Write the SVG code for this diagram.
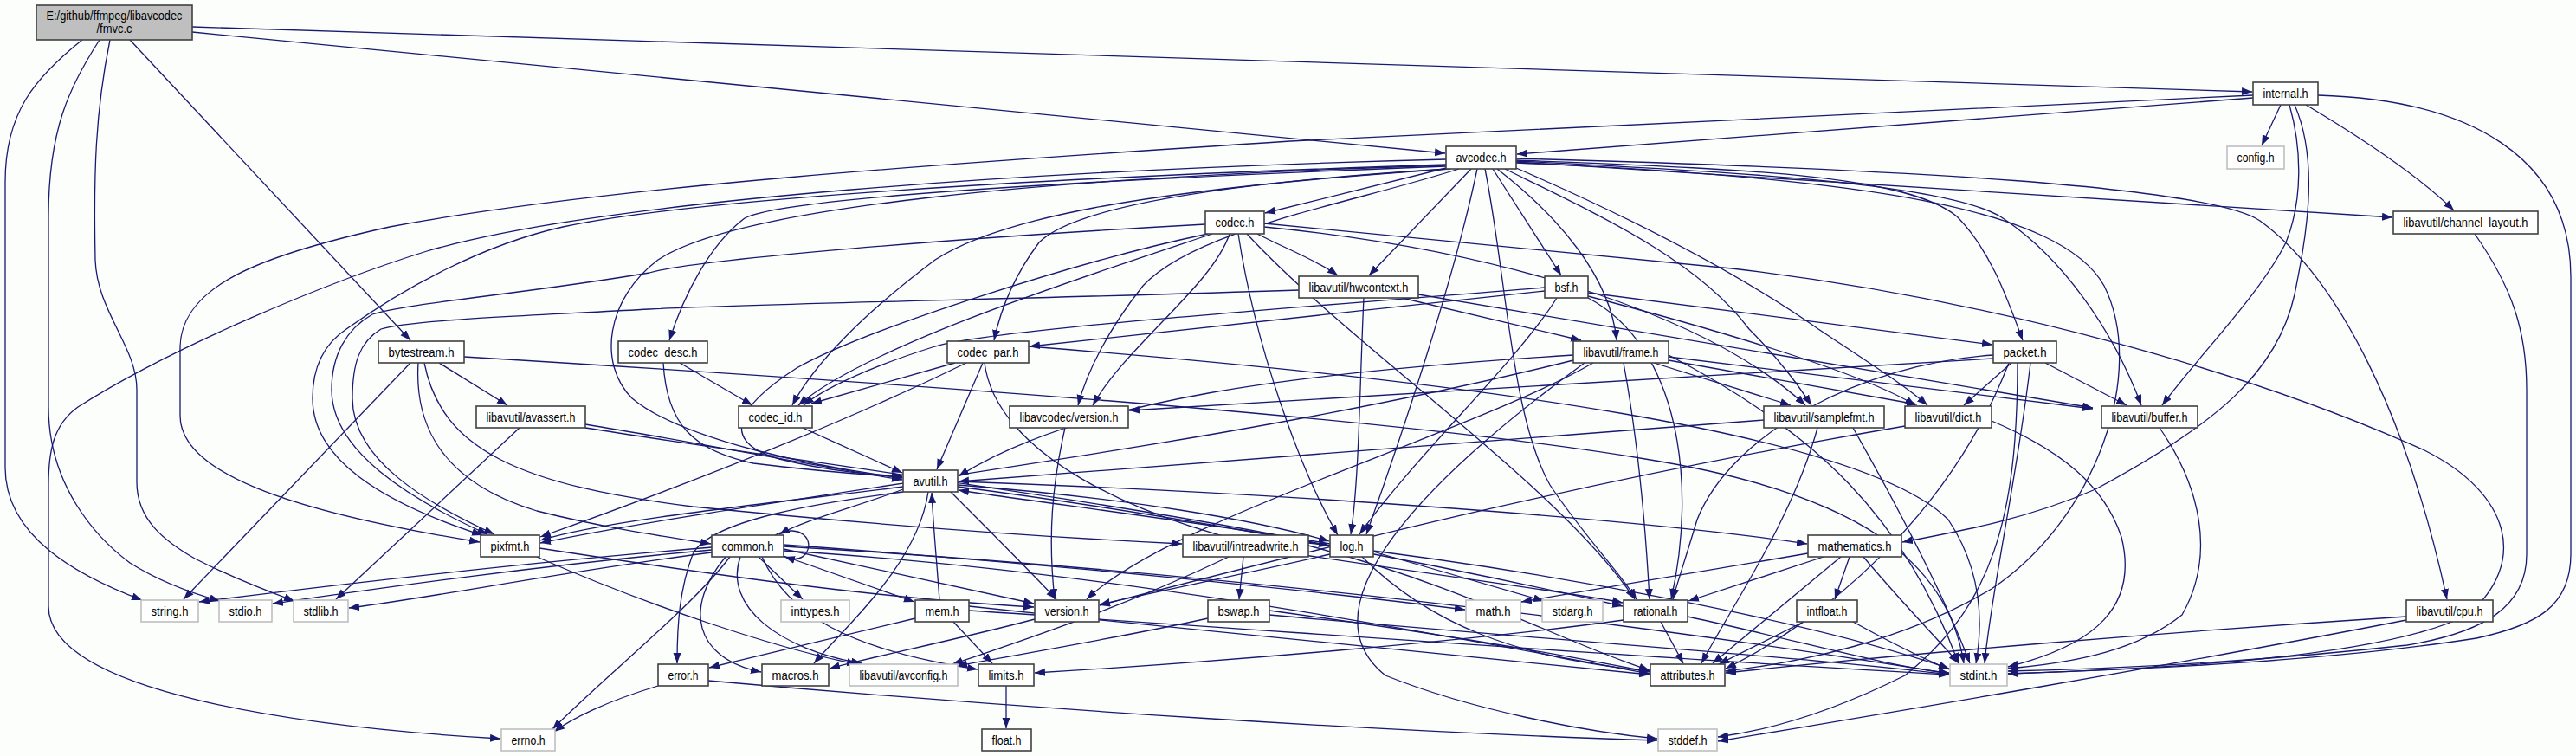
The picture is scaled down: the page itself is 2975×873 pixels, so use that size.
<svg xmlns="http://www.w3.org/2000/svg" width="2975" height="873" viewBox="0 0 2975 873">
<style>
.n rect{fill:#fff;stroke:#404040;stroke-width:1.6}
.g rect{fill:#fff;stroke:#bfbfbf;stroke-width:1.6}
#fmvc rect{fill:#bfbfbf}
text{font-family:"Liberation Sans",Arial,sans-serif;font-size:14px;fill:#000;text-anchor:middle}
#edges path{fill:none;stroke:#191970;stroke-width:1.3;marker-end:url(#a)}
</style>
<defs>
<marker id="a" markerUnits="userSpaceOnUse" markerWidth="12" markerHeight="10" refX="12" refY="4.5" orient="auto"><path d="M0,0 L12,4.5 L0,9 z" fill="#191970"/></marker>
</defs>
<rect width="2975" height="873" fill="#fcfefc"/>
<g id="edges">
<path d="M222,31 L2601,106"/>
<path d="M222,37 L1669,177"/>
<path d="M95,46 C40,90 6,130 6,210 L6,540 C6,620 90,665 164,693"/>
<path d="M115,46 C80,100 56,150 56,250 L56,470 C56,560 110,620 150,650 C185,672 225,686 254,694"/>
<path d="M127,46 C110,130 108,200 110,300 C112,360 158,400 158,450 L158,557 C158,600 190,625 225,645 C270,668 310,683 340,694"/>
<path d="M150,46 L474,393"/>
<path d="M2602,113 L1752,178"/>
<path d="M2602,110 L1490,163 C1100,188 700,215 450,262 C300,295 210,330 208,400 L208,480 C208,545 330,590 554,626"/>
<path d="M2634,121 L2612,168"/>
<path d="M2663,121 C2720,155 2790,200 2834,243"/>
<path d="M2644,121 C2658,170 2660,230 2640,280 C2610,340 2540,410 2497,468"/>
<path d="M2650,121 C2680,190 2662,280 2650,340 C2630,430 2560,490 2420,565 C2340,600 2260,614 2197,626"/>
<path d="M2677,110 C2850,115 2969,180 2969,320 L2969,640 C2969,700 2930,722 2860,737 C2700,762 2500,772 2319,778"/>
<path d="M1670,184 C1200,196 700,230 493,290 C380,325 200,400 90,470 C62,490 56,520 56,560 L56,700 C56,800 350,840 578,853"/>
<path d="M1670,190 C1200,205 800,230 650,262 C560,282 470,330 400,380 C370,400 361,430 361,460 C361,530 440,580 557,618"/>
<path d="M1670,194 L1461,246"/>
<path d="M1699,195 L1581,318"/>
<path d="M1724,195 L1803,318"/>
<path d="M1670,192 C1200,210 900,230 860,252 C820,282 790,340 773,393"/>
<path d="M1672,195 C1400,212 1240,240 1200,280 C1170,320 1155,360 1148,393"/>
<path d="M1675,195 C1300,220 1150,255 1080,300 C1000,360 940,420 915,468"/>
<path d="M1685,195 C1560,235 1380,265 1320,330 C1280,380 1255,430 1245,468"/>
<path d="M1670,191 C1200,205 850,240 760,300 C700,345 690,420 730,460 C790,510 950,540 1042,552"/>
<path d="M1706,195 C1680,320 1620,500 1578,617"/>
<path d="M1715,195 C1740,320 1745,480 1790,560 C1830,620 1870,660 1890,692"/>
<path d="M1729,195 C1800,250 1860,320 1867,393"/>
<path d="M1738,195 C1850,250 1960,300 2020,380 C2060,420 2080,450 2092,468"/>
<path d="M1751,194 C1880,250 2000,310 2100,380 C2160,420 2200,445 2226,468"/>
<path d="M1751,185 C2000,195 2200,200 2260,250 C2300,290 2320,350 2336,393"/>
<path d="M1751,186 C2050,200 2250,215 2310,250 C2380,295 2440,380 2473,468"/>
<path d="M1751,183 C2200,195 2550,215 2610,255 C2700,320 2780,480 2826,692"/>
<path d="M1751,187 L2763,251"/>
<path d="M1751,188 C2150,205 2380,240 2430,330 C2480,430 2420,600 2300,680 C2200,740 2080,765 1993,775"/>
<path d="M1460,258 C1600,270 1750,285 2000,310 C2300,345 2600,430 2800,520 C2900,570 2920,650 2850,710 C2750,760 2500,772 2319,778"/>
<path d="M1395,270 C1250,300 1000,380 920,425 C850,470 830,510 900,530 C960,545 1010,548 1042,550"/>
<path d="M1452,270 C1480,285 1520,300 1545,318"/>
<path d="M1430,270 C1450,400 1500,540 1545,618"/>
<path d="M1392,259 C1100,275 800,300 750,315 C600,340 470,350 430,363 C400,380 383,410 383,450 C383,520 470,575 563,617"/>
<path d="M1440,270 C1560,400 1800,560 1888,692"/>
<path d="M1460,262 C1750,290 1980,370 2085,468"/>
<path d="M1400,270 C1250,320 1000,400 922,468"/>
<path d="M1420,270 C1400,330 1300,400 1262,468"/>
<path d="M1638,340 L2417,471"/>
<path d="M1619,344 L1826,393"/>
<path d="M1575,344 C1570,450 1570,550 1560,617"/>
<path d="M1500,335 C1200,345 900,350 750,357 C600,365 470,370 440,380 C415,395 407,420 407,460 C407,530 490,580 571,617"/>
<path d="M1784,332 C1500,355 1150,380 1080,400 C1000,425 950,450 928,468"/>
<path d="M1784,336 L1189,400"/>
<path d="M1798,344 C1750,420 1640,520 1570,617"/>
<path d="M1834,338 L2301,398"/>
<path d="M1834,342 C1980,380 2150,430 2212,468"/>
<path d="M1834,344 C1940,400 1960,560 1930,692"/>
<path d="M785,419 L869,468"/>
<path d="M766,419 C770,490 800,520 870,535 C950,545 1000,548 1042,551"/>
<path d="M1103,419 L937,466"/>
<path d="M1135,419 L1082,542"/>
<path d="M1116,419 C950,500 750,575 624,620"/>
<path d="M1137,419 C1150,520 1300,600 1500,640 C1700,670 1820,685 1874,696"/>
<path d="M1188,400 C1700,440 2150,500 2250,600 C2290,660 2290,720 2282,766"/>
<path d="M927,494 L1042,546"/>
<path d="M1230,494 C1215,560 1210,620 1218,692"/>
<path d="M474,419 L212,692"/>
<path d="M507,419 L586,468"/>
<path d="M483,419 C478,500 520,560 620,590 C700,610 770,620 821,628"/>
<path d="M490,419 C510,520 600,560 800,585 C1000,605 1200,620 1365,628"/>
<path d="M536,412 C1000,440 1600,480 1900,530 C2150,570 2250,650 2268,766"/>
<path d="M600,494 L388,692"/>
<path d="M676,490 C800,510 950,540 1042,554"/>
<path d="M676,494 C900,530 1300,580 1535,630"/>
<path d="M1817,410 C1500,430 1250,460 1107,550"/>
<path d="M1817,416 C1400,520 900,570 624,627"/>
<path d="M1840,419 C1700,500 1350,600 1255,692"/>
<path d="M1830,419 C1650,550 1500,700 1600,780 C1700,820 1830,845 1914,853"/>
<path d="M1927,410 C2100,500 2200,600 2262,766"/>
<path d="M1927,412 L2417,472"/>
<path d="M1927,416 L2214,467"/>
<path d="M1875,419 C1890,500 1900,600 1905,692"/>
<path d="M1910,419 L2068,468"/>
<path d="M2330,419 C2330,600 2300,700 2200,780 C2100,830 2030,845 1984,851"/>
<path d="M2345,419 C2330,550 2300,680 2292,766"/>
<path d="M2320,419 C2250,600 2100,720 1993,772"/>
<path d="M2362,419 L2456,468"/>
<path d="M2323,419 L2268,468"/>
<path d="M2302,410 C2150,420 2000,500 1960,600 C1945,650 1935,680 1932,692"/>
<path d="M2302,414 C1900,440 1500,460 1304,474"/>
<path d="M2037,485 L1107,556"/>
<path d="M2099,494 C2070,600 2000,700 1965,766"/>
<path d="M2140,494 C2200,600 2250,700 2275,766"/>
<path d="M2300,486 C2380,520 2430,560 2450,620 C2470,700 2420,745 2319,770"/>
<path d="M2200,492 C1800,560 1500,640 1270,699"/>
<path d="M2494,494 C2540,560 2560,640 2520,710 C2470,750 2400,765 2319,772"/>
<path d="M2858,270 C2900,330 2918,380 2918,450 L2918,640 C2918,700 2870,730 2780,745 C2600,765 2450,772 2319,775"/>
<path d="M2779,712 C2500,730 2200,755 1993,777"/>
<path d="M2779,716 C2500,770 2200,820 1984,856"/>
<path d="M1043,565 C990,585 930,600 900,617"/>
<path d="M1043,568 C950,580 820,600 800,640 C785,680 782,720 782,766"/>
<path d="M1098,568 C1140,610 1190,660 1220,692"/>
<path d="M1043,562 C900,580 700,600 624,624"/>
<path d="M1106,560 C1300,575 1450,600 1535,625"/>
<path d="M1106,562 C1400,600 1700,660 1874,700"/>
<path d="M1106,556 C1500,570 1900,600 2087,628"/>
<path d="M1072,568 C1060,650 980,720 940,766"/>
<path d="M895,618 C925,603 942,625 930,640 C924,647 916,646 906,643"/>
<path d="M843,643 C800,700 700,780 638,842"/>
<path d="M876,643 L927,692"/>
<path d="M880,643 C910,710 980,750 1129,773"/>
<path d="M838,643 C790,700 800,760 879,776"/>
<path d="M855,643 C835,700 900,750 995,766"/>
<path d="M905,636 C1300,660 1700,740 1905,778"/>
<path d="M905,642 L1056,695"/>
<path d="M905,634 L1194,697"/>
<path d="M905,631 C1400,660 1900,720 2251,778"/>
<path d="M822,632 C600,650 350,680 230,695"/>
<path d="M822,635 C600,655 400,685 315,697"/>
<path d="M822,638 C650,660 500,690 403,702"/>
<path d="M905,629 C1200,650 1500,680 1692,704"/>
<path d="M1586,637 L1783,694"/>
<path d="M1536,628 C1400,605 1200,580 1107,566"/>
<path d="M1573,643 C1650,720 1750,760 1905,775"/>
<path d="M1536,640 C1450,660 1350,680 1270,698"/>
<path d="M1195,715 C1100,740 1000,760 958,772"/>
<path d="M1085,693 C1082,650 1078,610 1076,569"/>
<path d="M1057,714 L819,771"/>
<path d="M1101,718 L1146,766"/>
<path d="M1119,700 C1400,730 1700,760 1905,779"/>
<path d="M1119,705 C1500,730 1900,760 2251,779"/>
<path d="M760,792 C700,810 660,830 640,845"/>
<path d="M818,786 C1200,820 1600,845 1914,855"/>
<path d="M1162,792 L1162,841"/>
<path d="M620,643 C750,700 900,750 990,767"/>
<path d="M623,633 C800,660 1000,690 1194,701"/>
<path d="M1436,643 L1431,692"/>
<path d="M1419,643 C1300,700 1180,740 1100,767"/>
<path d="M1511,630 C1700,680 1800,740 1905,774"/>
<path d="M1511,627 C1800,660 2100,720 2251,772"/>
<path d="M1395,714 C1300,735 1180,755 1105,769"/>
<path d="M1466,705 C1650,730 1800,755 1905,776"/>
<path d="M1466,710 C1800,740 2100,760 2251,779"/>
<path d="M1918,718 L1944,766"/>
<path d="M1875,716 C1700,740 1400,765 1195,777"/>
<path d="M1949,712 C2080,740 2180,770 2251,777"/>
<path d="M2088,639 L1757,695"/>
<path d="M2106,643 L1950,694"/>
<path d="M2136,643 L2119,692"/>
<path d="M2126,643 L1978,766"/>
<path d="M2152,643 C2200,700 2240,740 2262,766"/>
<path d="M2083,718 L1985,767"/>
<path d="M2140,718 C2180,740 2220,760 2251,773"/>
</g>
<g id="fmvc" class="n"><rect x="42" y="6" width="180" height="40"/><text x="132" y="23" textLength="157" lengthAdjust="spacingAndGlyphs">E:/github/ffmpeg/libavcodec</text><text x="132" y="38" textLength="41" lengthAdjust="spacingAndGlyphs">/fmvc.c</text></g>
<g id="internal" class="n"><rect x="2602" y="95" width="75" height="26"/><text x="2639.5" y="113" textLength="52" lengthAdjust="spacingAndGlyphs">internal.h</text></g>
<g id="config" class="g"><rect x="2572" y="169" width="66" height="26"/><text x="2605" y="187" textLength="43" lengthAdjust="spacingAndGlyphs">config.h</text></g>
<g id="avcodec" class="n"><rect x="1670" y="169" width="81" height="26"/><text x="1710.5" y="187" textLength="58" lengthAdjust="spacingAndGlyphs">avcodec.h</text></g>
<g id="codec" class="n"><rect x="1392" y="244" width="68" height="26"/><text x="1426" y="262" textLength="45" lengthAdjust="spacingAndGlyphs">codec.h</text></g>
<g id="channel_layout" class="n"><rect x="2764" y="244" width="167" height="26"/><text x="2847.5" y="262" textLength="144" lengthAdjust="spacingAndGlyphs">libavutil/channel_layout.h</text></g>
<g id="hwcontext" class="n"><rect x="1500" y="319" width="138" height="25"/><text x="1569" y="336.5" textLength="115" lengthAdjust="spacingAndGlyphs">libavutil/hwcontext.h</text></g>
<g id="bsf" class="n"><rect x="1784" y="319" width="50" height="25"/><text x="1809" y="336.5" textLength="27" lengthAdjust="spacingAndGlyphs">bsf.h</text></g>
<g id="bytestream" class="n"><rect x="437" y="394" width="99" height="25"/><text x="486.5" y="411.5" textLength="76" lengthAdjust="spacingAndGlyphs">bytestream.h</text></g>
<g id="codec_desc" class="n"><rect x="714" y="394" width="103" height="25"/><text x="765.5" y="411.5" textLength="80" lengthAdjust="spacingAndGlyphs">codec_desc.h</text></g>
<g id="codec_par" class="n"><rect x="1094" y="394" width="94" height="25"/><text x="1141" y="411.5" textLength="71" lengthAdjust="spacingAndGlyphs">codec_par.h</text></g>
<g id="frame" class="n"><rect x="1817" y="394" width="110" height="25"/><text x="1872" y="411.5" textLength="87" lengthAdjust="spacingAndGlyphs">libavutil/frame.h</text></g>
<g id="packet" class="n"><rect x="2302" y="394" width="73" height="25"/><text x="2338.5" y="411.5" textLength="50" lengthAdjust="spacingAndGlyphs">packet.h</text></g>
<g id="avassert" class="n"><rect x="550" y="469" width="126" height="25"/><text x="613" y="486.5" textLength="103" lengthAdjust="spacingAndGlyphs">libavutil/avassert.h</text></g>
<g id="codec_id" class="n"><rect x="853" y="469" width="85" height="25"/><text x="895.5" y="486.5" textLength="62" lengthAdjust="spacingAndGlyphs">codec_id.h</text></g>
<g id="lavc_version" class="n"><rect x="1166" y="469" width="137" height="25"/><text x="1234.5" y="486.5" textLength="114" lengthAdjust="spacingAndGlyphs">libavcodec/version.h</text></g>
<g id="samplefmt" class="n"><rect x="2037" y="469" width="139" height="25"/><text x="2106.5" y="486.5" textLength="116" lengthAdjust="spacingAndGlyphs">libavutil/samplefmt.h</text></g>
<g id="dict" class="n"><rect x="2200" y="469" width="100" height="25"/><text x="2250" y="486.5" textLength="77" lengthAdjust="spacingAndGlyphs">libavutil/dict.h</text></g>
<g id="buffer" class="n"><rect x="2427" y="469" width="111" height="25"/><text x="2482.5" y="486.5" textLength="88" lengthAdjust="spacingAndGlyphs">libavutil/buffer.h</text></g>
<g id="avutil" class="n"><rect x="1043" y="543" width="63" height="25"/><text x="1074.5" y="560.5" textLength="40" lengthAdjust="spacingAndGlyphs">avutil.h</text></g>
<g id="pixfmt" class="n"><rect x="555" y="618" width="68" height="25"/><text x="589" y="635.5" textLength="45" lengthAdjust="spacingAndGlyphs">pixfmt.h</text></g>
<g id="common" class="n"><rect x="822" y="618" width="83" height="25"/><text x="863.5" y="635.5" textLength="60" lengthAdjust="spacingAndGlyphs">common.h</text></g>
<g id="intreadwrite" class="n"><rect x="1366" y="618" width="145" height="25"/><text x="1438.5" y="635.5" textLength="122" lengthAdjust="spacingAndGlyphs">libavutil/intreadwrite.h</text></g>
<g id="log" class="n"><rect x="1536" y="618" width="50" height="25"/><text x="1561" y="635.5" textLength="27" lengthAdjust="spacingAndGlyphs">log.h</text></g>
<g id="mathematics" class="n"><rect x="2088" y="618" width="108" height="25"/><text x="2142" y="635.5" textLength="85" lengthAdjust="spacingAndGlyphs">mathematics.h</text></g>
<g id="string" class="g"><rect x="163" y="693" width="66" height="25"/><text x="196" y="710.5" textLength="43" lengthAdjust="spacingAndGlyphs">string.h</text></g>
<g id="stdio" class="g"><rect x="253" y="693" width="61" height="25"/><text x="283.5" y="710.5" textLength="38" lengthAdjust="spacingAndGlyphs">stdio.h</text></g>
<g id="stdlib" class="g"><rect x="339" y="693" width="63" height="25"/><text x="370.5" y="710.5" textLength="40" lengthAdjust="spacingAndGlyphs">stdlib.h</text></g>
<g id="inttypes" class="g"><rect x="902" y="693" width="79" height="25"/><text x="941.5" y="710.5" textLength="56" lengthAdjust="spacingAndGlyphs">inttypes.h</text></g>
<g id="mem" class="n"><rect x="1057" y="693" width="62" height="25"/><text x="1088" y="710.5" textLength="39" lengthAdjust="spacingAndGlyphs">mem.h</text></g>
<g id="version" class="n"><rect x="1195" y="693" width="74" height="25"/><text x="1232" y="710.5" textLength="51" lengthAdjust="spacingAndGlyphs">version.h</text></g>
<g id="bswap" class="n"><rect x="1395" y="693" width="71" height="25"/><text x="1430.5" y="710.5" textLength="48" lengthAdjust="spacingAndGlyphs">bswap.h</text></g>
<g id="math" class="g"><rect x="1693" y="693" width="63" height="25"/><text x="1724.5" y="710.5" textLength="40" lengthAdjust="spacingAndGlyphs">math.h</text></g>
<g id="stdarg" class="g"><rect x="1781" y="693" width="70" height="25"/><text x="1816" y="710.5" textLength="47" lengthAdjust="spacingAndGlyphs">stdarg.h</text></g>
<g id="rational" class="n"><rect x="1875" y="693" width="74" height="25"/><text x="1912" y="710.5" textLength="51" lengthAdjust="spacingAndGlyphs">rational.h</text></g>
<g id="intfloat" class="n"><rect x="2075" y="693" width="70" height="25"/><text x="2110" y="710.5" textLength="47" lengthAdjust="spacingAndGlyphs">intfloat.h</text></g>
<g id="cpu" class="n"><rect x="2779" y="693" width="100" height="25"/><text x="2829" y="710.5" textLength="77" lengthAdjust="spacingAndGlyphs">libavutil/cpu.h</text></g>
<g id="error" class="n"><rect x="760" y="767" width="58" height="25"/><text x="789" y="784.5" textLength="35" lengthAdjust="spacingAndGlyphs">error.h</text></g>
<g id="macros" class="n"><rect x="880" y="767" width="77" height="25"/><text x="918.5" y="784.5" textLength="54" lengthAdjust="spacingAndGlyphs">macros.h</text></g>
<g id="avconfig" class="g"><rect x="981" y="767" width="125" height="25"/><text x="1043.5" y="784.5" textLength="102" lengthAdjust="spacingAndGlyphs">libavutil/avconfig.h</text></g>
<g id="limits" class="n"><rect x="1130" y="767" width="64" height="25"/><text x="1162" y="784.5" textLength="41" lengthAdjust="spacingAndGlyphs">limits.h</text></g>
<g id="attributes" class="n"><rect x="1906" y="767" width="86" height="25"/><text x="1949" y="784.5" textLength="63" lengthAdjust="spacingAndGlyphs">attributes.h</text></g>
<g id="stdint" class="g"><rect x="2252" y="767" width="66" height="25"/><text x="2285" y="784.5" textLength="43" lengthAdjust="spacingAndGlyphs">stdint.h</text></g>
<g id="errno" class="g"><rect x="579" y="842" width="62" height="25"/><text x="610" y="859.5" textLength="39" lengthAdjust="spacingAndGlyphs">errno.h</text></g>
<g id="float" class="n"><rect x="1134" y="842" width="57" height="25"/><text x="1162.5" y="859.5" textLength="34" lengthAdjust="spacingAndGlyphs">float.h</text></g>
<g id="stddef" class="g"><rect x="1915" y="842" width="68" height="25"/><text x="1949" y="859.5" textLength="45" lengthAdjust="spacingAndGlyphs">stddef.h</text></g>
</svg>
